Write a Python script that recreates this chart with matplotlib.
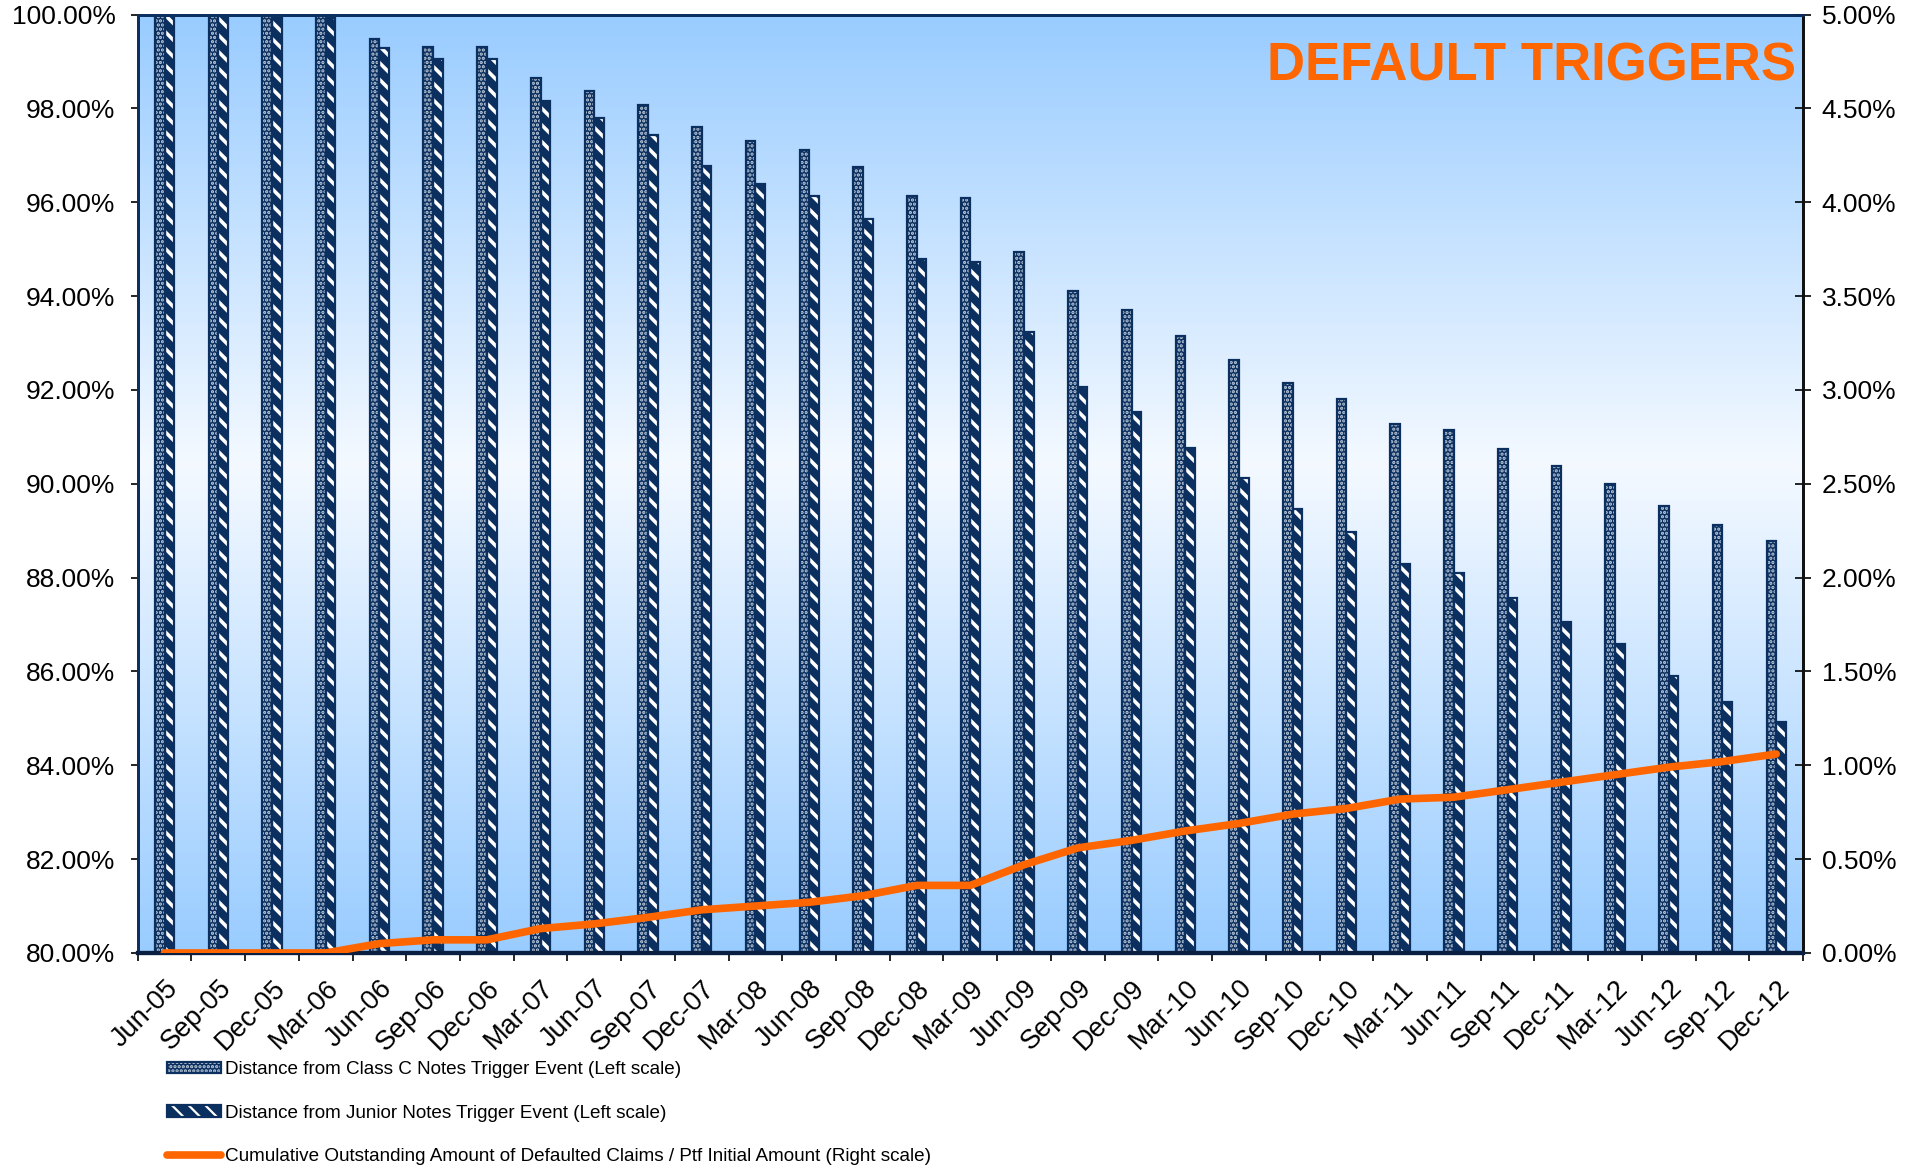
import numpy as np
import matplotlib
matplotlib.use('Agg')
import matplotlib.pyplot as plt
from matplotlib.colors import LinearSegmentedColormap
from matplotlib.lines import Line2D
from matplotlib.patches import Patch

# quarterly observations, Jun-05 .. Dec-12
quarters = ['Jun-05', 'Sep-05', 'Dec-05', 'Mar-06', 'Jun-06', 'Sep-06', 'Dec-06',
            'Mar-07', 'Jun-07', 'Sep-07', 'Dec-07', 'Mar-08', 'Jun-08', 'Sep-08',
            'Dec-08', 'Mar-09', 'Jun-09', 'Sep-09', 'Dec-09', 'Mar-10', 'Jun-10',
            'Sep-10', 'Dec-10', 'Mar-11', 'Jun-11', 'Sep-11', 'Dec-11', 'Mar-12',
            'Jun-12', 'Sep-12', 'Dec-12']

# distance from trigger events (%), left scale
class_c = [100.0, 100.0, 99.96, 99.96, 99.47, 99.31, 99.31, 98.65, 98.37, 98.08,
           97.61, 97.30, 97.12, 96.76, 96.13, 96.08, 94.94, 94.11, 93.70, 93.15,
           92.63, 92.14, 91.80, 91.28, 91.15, 90.74, 90.38, 89.99, 89.52, 89.13, 88.79]
junior = [100.0, 100.0, 99.93, 99.92, 99.28, 99.06, 99.06, 98.16, 97.80, 97.43,
          96.78, 96.39, 96.13, 95.64, 94.79, 94.73, 93.23, 92.06, 91.52, 90.77,
          90.12, 89.47, 88.98, 88.30, 88.09, 87.57, 87.06, 86.59, 85.91, 85.34, 84.93]

# cumulative defaulted claims / initial portfolio (%), right scale
defaulted = [0.0, 0.0, 0.0, 0.0, 0.05, 0.07, 0.07, 0.13, 0.155, 0.19,
             0.23, 0.25, 0.27, 0.305, 0.36, 0.36, 0.47, 0.56, 0.60, 0.65,
             0.69, 0.74, 0.77, 0.82, 0.83, 0.87, 0.91, 0.95, 0.99, 1.02, 1.06]

label_c = 'Distance from Class C Notes Trigger Event (Left scale)'
label_j = 'Distance from Junior Notes Trigger Event (Left scale)'
label_d = 'Cumulative Outstanding Amount of Defaulted Claims / Ptf Initial Amount (Right scale)'

plt.rcParams['font.family'] = ['Liberation Sans', 'DejaVu Sans']
plt.rcParams['hatch.linewidth'] = 1.6

navy = '#0b2f5e'
orange = '#ff6600'
dots = '#c3d0e0'
stripes = '\\\\'

fig = plt.figure(figsize=(19.09, 11.65), dpi=100)
ax = fig.add_axes([0.0721, 0.182, 0.8724, 0.8055])

n = len(quarters)
x = np.arange(n) + 0.5
w = 0.18

# background gradient: blue -> almost white -> blue
grad = np.linspace(0, 1, 256).reshape(-1, 1)
bg = LinearSegmentedColormap.from_list('bg', [(0, '#99ccff'), (0.52, '#f4f9ff'), (1, '#99ccff')])
ax.imshow(grad, cmap=bg, extent=[0, n, 80, 100], aspect='auto', origin='lower', zorder=0)

# bars: hatched fill layer + navy outline layer
ax.bar(x - w / 2, class_c, w, color=navy, edgecolor=dots, hatch='....', linewidth=0, zorder=2)
ax.bar(x - w / 2, class_c, w, fill=False, edgecolor=navy, linewidth=1.6, zorder=3)
with plt.rc_context({'hatch.linewidth': 2.6}):
    ax.bar(x + w / 2, junior, w, color=navy, edgecolor='white', hatch=stripes, linewidth=0, zorder=2)
    h_j_fill = Patch(facecolor=navy, edgecolor='white', hatch=stripes, linewidth=0)
ax.bar(x + w / 2, junior, w, fill=False, edgecolor=navy, linewidth=1.6, zorder=3)

ax.set_xlim(0, n)
ax.set_ylim(80, 100)

yt = np.arange(80, 100.1, 2)
ax.set_yticks(yt)
ax.set_yticklabels([f'{v:.2f}%' for v in yt])
ax.tick_params(axis='y', direction='out', length=5, width=1.2, labelsize=19, pad=11)

ax.set_xticks(x)
ax.set_xticklabels(quarters, rotation=45, ha='right', rotation_mode='anchor')
ax.set_xticks(np.arange(n + 1), minor=True)
ax.tick_params(axis='x', which='major', length=0, labelsize=19.5, pad=16)
ax.tick_params(axis='x', which='minor', direction='out', length=6, width=1.2)

# line on the right scale
ax2 = ax.twinx()
ax2.plot(x, defaulted, color=orange, lw=5.5, solid_capstyle='round', zorder=5)
ax2.set_ylim(0, 5)
rt = np.arange(0, 5.01, 0.5)
ax2.set_yticks(rt)
ax2.set_yticklabels([f'{v:.2f}%' for v in rt])
ax2.tick_params(axis='y', direction='inout', length=11, width=1.2, labelsize=19, pad=8)

for a in (ax, ax2):
    a.spines['left'].set_color(navy)
    a.spines['left'].set_linewidth(2)
    a.spines['bottom'].set_color('#0a1f3f')
    a.spines['bottom'].set_linewidth(3)
    a.spines['top'].set_color(navy)
    a.spines['top'].set_linewidth(2)
    a.spines['right'].set_color('#111111')
    a.spines['right'].set_linewidth(2)

ax2.text(0.996, 0.93, 'DEFAULT TRIGGERS', transform=ax2.transAxes, ha='right', va='baseline',
         fontsize=38, fontweight='bold', color=orange, zorder=6)

# legend under the chart
h_c = (Patch(facecolor=navy, edgecolor=dots, hatch='....', linewidth=0),
       Patch(fill=False, edgecolor=navy, linewidth=1.6))
h_j = (h_j_fill, Patch(fill=False, edgecolor=navy, linewidth=1.6))
h_d = Line2D([], [], color=orange, lw=5.5, solid_capstyle='round')
fig.legend([h_c, h_j, h_d], [label_c, label_j, label_d], loc='upper left',
           bbox_to_anchor=(0.0875, 0.089), frameon=False, fontsize=13.6,
           handlelength=2.85, handleheight=0.55, handletextpad=0.2, labelspacing=1.4,
           borderpad=0, borderaxespad=0)

fig.savefig('out.png', dpi=100)
